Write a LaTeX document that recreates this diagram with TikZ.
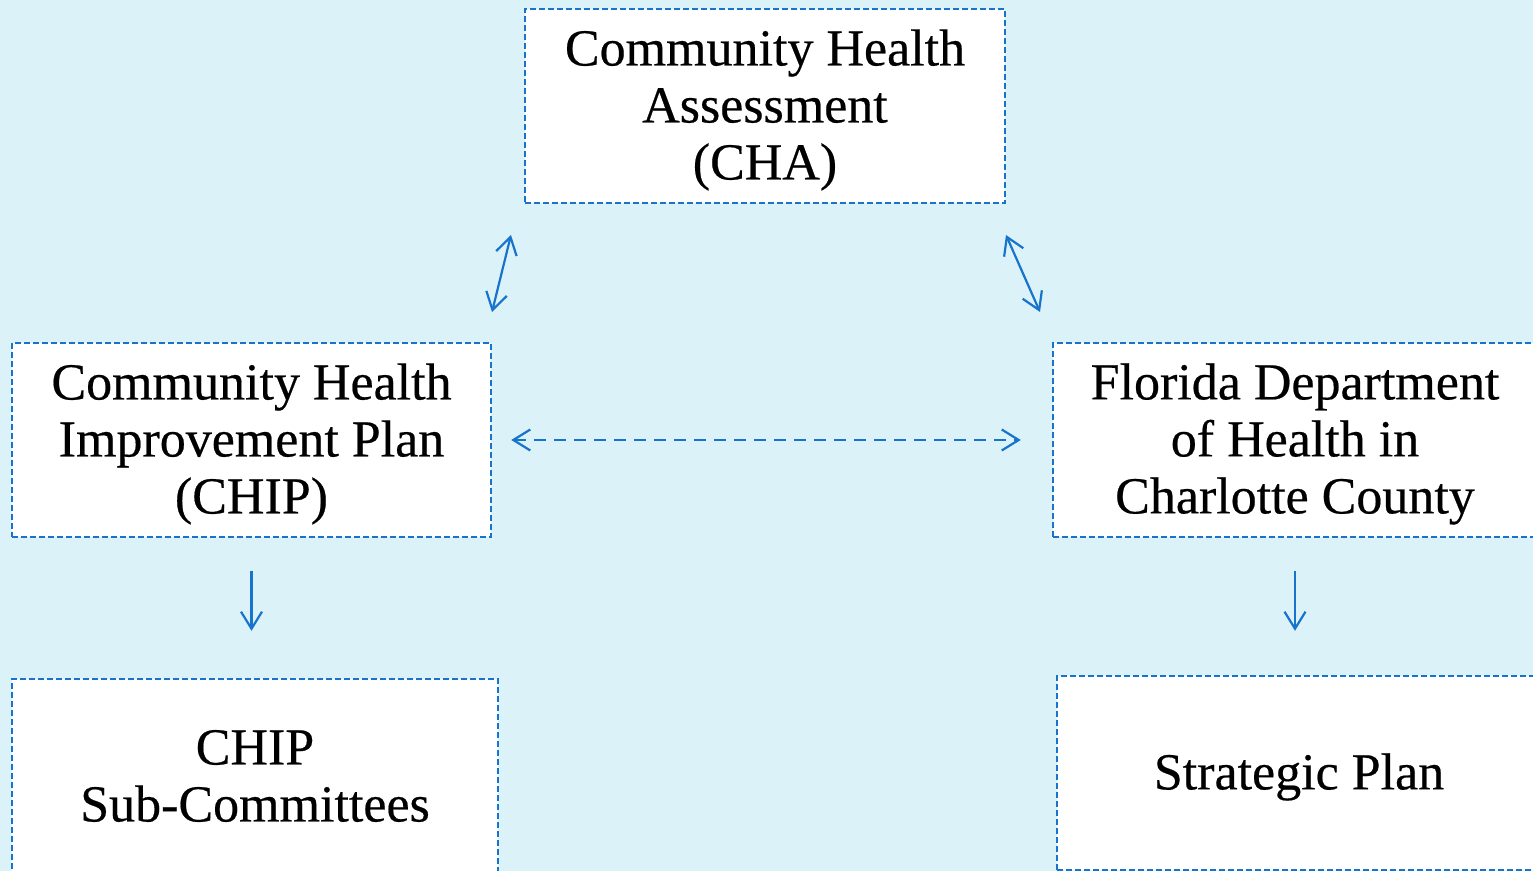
\documentclass[tikz,border=0pt]{standalone}
\usepackage{fontspec}
\setmainfont{Liberation Serif}
\usetikzlibrary{arrows.meta,positioning}

\definecolor{bgcyan}{RGB}{219,243,248}
\definecolor{linkblue}{RGB}{23,115,204}
\newcommand{\lowertext}{\rule{0pt}{22pt}}

\begin{document}
\begin{tikzpicture}[x=0.5pt,y=-0.5pt,>={Straight Barb[length=8.5pt,width=10.5pt]},line width=1pt]

  \tikzstyle{plan}=[draw=linkblue,line width=1.2pt,dash pattern=on 3pt off 1.5pt,fill=white,align=center,
                    inner sep=0pt,font=\fontsize{26}{28.5}\selectfont\addfontfeature{FakeBold=0.4}]
  \tikzstyle{link}=[draw=linkblue,line width=1.1pt]

  \fill[bgcyan] (0,0) rectangle (1533,871);
  \clip (0,0) rectangle (1533,871);

  \node[plan,minimum width=240pt,minimum height=97pt] (cha)   at (765,106)  {\lowertext Community Health\\Assessment\\(CHA)};
  \node[plan,minimum width=239.5pt,minimum height=97pt] (chip) at (251.5,440) {\lowertext Community Health\\Improvement Plan\\(CHIP)};
  \node[plan,minimum width=242pt,minimum height=97pt] (doh)   at (1295,440) {\lowertext Florida Department\\of Health in\\Charlotte County};
  \node[plan,minimum width=243pt,minimum height=97pt] (subcom) at (255,776) {CHIP\\Sub-Committees};
  \node[plan,minimum width=242pt,minimum height=97pt] (stratplan) at (1299,773) {\lowertext Strategic Plan};

  \coordinate (cha-l)  at (511,235);
  \coordinate (chip-t) at (492,312);
  \coordinate (cha-r)  at (1006,235);
  \coordinate (doh-t)  at (1040,312);

  \draw[link,<->] (cha-l) -- (chip-t);
  \draw[link,<->] (cha-r) -- (doh-t);
  \draw[link,<->,dash pattern=on 6pt off 4pt,shorten <=9.5pt,shorten >=15.5pt] (chip.east) -- (doh.west);
  \draw[link,->,shorten <=16.5pt,shorten >=23.5pt] (chip.south) -- (chip.south |- subcom.north);
  \draw[link,->,shorten <=16.5pt,shorten >=22pt] (doh.south) -- (doh.south |- stratplan.north);

\end{tikzpicture}
\end{document}
